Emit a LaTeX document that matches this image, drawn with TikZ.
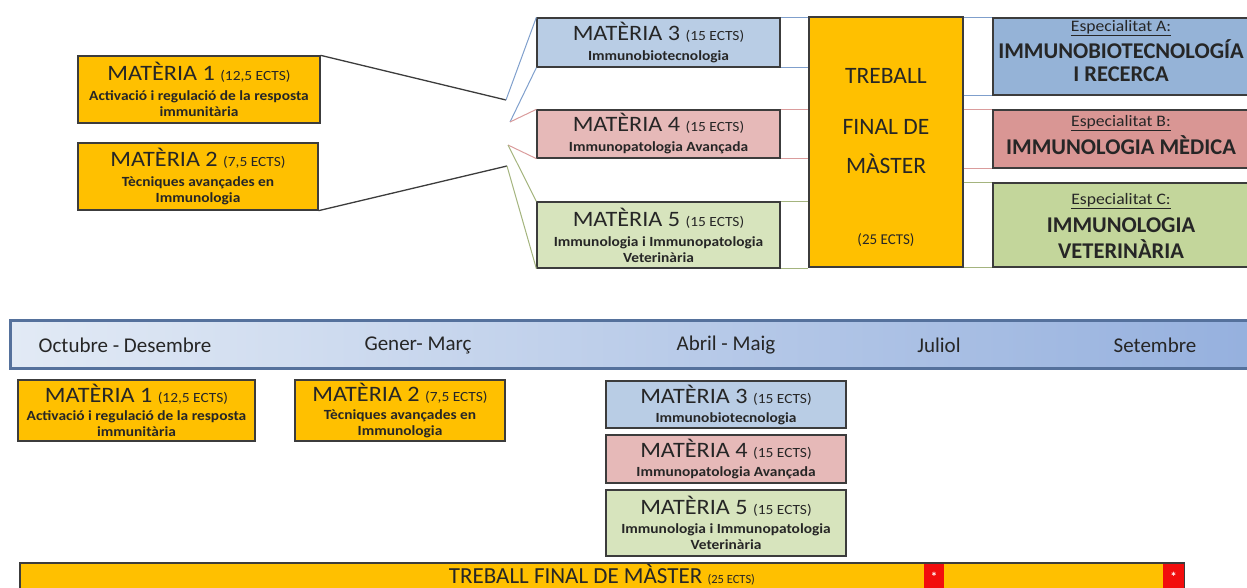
\documentclass[tikz,border=0pt]{standalone}
\usepackage{fontspec}
\setmainfont{Carlito}
\newfontfamily\wfont[FakeStretch=1.1]{Carlito}
\usetikzlibrary{calc}
\definecolor{gold}{HTML}{FFC000}
\definecolor{boxline}{HTML}{3C3C3C}
\definecolor{txt}{HTML}{262626}
\definecolor{bluefill}{HTML}{B9CDE5}
\definecolor{pinkfill}{HTML}{E6B9B8}
\definecolor{greenfill}{HTML}{D7E4BD}
\definecolor{bluespec}{HTML}{95B3D7}
\definecolor{pinkspec}{HTML}{D99694}
\definecolor{greenspec}{HTML}{C3D69B}
\definecolor{blueline}{HTML}{7F9FCC}
\definecolor{pinkline}{HTML}{DA9C9C}
\definecolor{greenline}{HTML}{A4B47E}
\definecolor{tlleft}{HTML}{E2EAF5}
\definecolor{tlright}{HTML}{95B0DE}
\definecolor{tlborder}{HTML}{55719C}
\definecolor{redmark}{HTML}{F20D0D}
\newcommand{\mtitle}[2]{{\wfont\fontsize{22}{24}\selectfont MATÈRIA #1 }{\wfont\fontsize{14}{16}\selectfont(#2 ECTS)}}
\newcommand{\msub}[1]{{\wfont\bfseries\fontsize{14}{16}\selectfont #1}}
\tikzset{
  mbox/.style={draw=boxline, line width=1.3pt, inner sep=0pt, align=center, text=txt,
    font=\fontsize{14}{16}\selectfont},
  gold box/.style={mbox, fill=gold},
  blue box/.style={mbox, fill=bluefill},
  pink box/.style={mbox, fill=pinkfill},
  green box/.style={mbox, fill=greenfill},
  lbl/.style={inner sep=0pt, align=center, text=txt, font=\fontsize{14}{16}\selectfont},
  tfmlbl/.style={inner sep=0pt, text=txt, font=\fontsize{23.5}{26}\selectfont},
  spechd/.style={inner sep=0pt, text=txt, font=\wfont\fontsize{16}{18}\selectfont},
  specnm/.style={inner sep=0pt, text=txt, font=\bfseries\fontsize{22.5}{24}\selectfont},
  tllbl/.style={inner sep=0pt, text=txt, font=\fontsize{21}{24}\selectfont},
  blk/.style={draw=boxline, line width=1.3pt},
  bl/.style={draw=blueline, line width=1pt},
  pk/.style={draw=pinkline, line width=1pt},
  gr/.style={draw=greenline, line width=1pt},
}
\begin{document}
\begin{tikzpicture}[x=1pt,y=-1pt]
\useasboundingbox (0,0) rectangle (1247,588);

% ---------- top scheme ----------
\node[gold box, minimum width=242, minimum height=67] (m1) at (199,89.5)
  {\mtitle{1}{12,5}\\[4pt]\msub{Activació i regulació de la resposta}\\\msub{immunitària}};
\node[gold box, minimum width=240, minimum height=67] (m2) at (198,176.5)
  {\mtitle{2}{7,5}\\[4pt]\msub{Tècniques avançades en}\\\msub{Immunologia}};

\node[blue box, minimum width=243, minimum height=49] (m3) at (658.5,42.5)
  {\mtitle{3}{15}\\[4pt]\msub{Immunobiotecnologia}};
\node[pink box, minimum width=243, minimum height=48] (m4) at (658.5,134)
  {\mtitle{4}{15}\\[4pt]\msub{Immunopatologia Avançada}};
\node[green box, minimum width=243, minimum height=66] (m5) at (658.5,235)
  {\mtitle{5}{15}\\[4pt]\msub{Immunologia i Immunopatologia}\\\msub{Veterinària}};

\node[gold box, minimum width=154, minimum height=250] (tfm) at (886,142) {};
\node[tfmlbl] (tfm1) at (886,76) {TREBALL};
\node[tfmlbl] (tfm2) at (886,127) {FINAL DE};
\node[tfmlbl] (tfm3) at (886,164) {MÀSTER};
\node[tfmlbl, font=\fontsize{15}{17}\selectfont] (tfm4) at (886,240) {(25 ECTS)};

\node[mbox, fill=bluespec, minimum width=262, minimum height=77] (spa) at (1124,56.5) {};
\node[mbox, fill=pinkspec, minimum width=262, minimum height=58] (spb) at (1124,139) {};
\node[mbox, fill=greenspec, minimum width=262, minimum height=84] (spc) at (1124,225) {};
\node[spechd] (spa1) at (1121,28) {\underline{Especialitat A:}};
\node[specnm] (spa2) at (1121,49) {IMMUNOBIOTECNOLOGÍA};
\node[specnm] (spa3) at (1121,74) {I RECERCA};
\node[spechd] (spb1) at (1121,123) {\underline{Especialitat B:}};
\node[specnm] (spb2) at (1121,145) {IMMUNOLOGIA MÈDICA};
\node[spechd] (spc1) at (1121,201) {\underline{Especialitat C:}};
\node[specnm] (spc2) at (1121,225) {IMMUNOLOGIA};
\node[specnm] (spc3) at (1121,249) {VETERINÀRIA};

% fan points
\coordinate (p1) at (506,100);
\coordinate (p2) at (510,122);
\coordinate (p3) at (508,145);
\coordinate (p4) at (507,166);

\draw[blk] (m1.north east) -- (p1);
\draw[blk] (m2.south east) -- (p4);
\draw[bl] (p1) -- (m3.north west);
\draw[bl] (p2) -- (m3.south west);
\draw[pk] (p2) -- (m4.north west);
\draw[pk] (p3) -- (m4.south west);
\draw[gr] (p3) -- (m5.north west);
\draw[gr] (p4) -- (m5.south west);

\draw[bl] (m3.north east) -- (m3.north east -| tfm.west);
\draw[bl] (m3.south east) -- (m3.south east -| tfm.west);
\draw[pk] (m4.north east) -- (m4.north east -| tfm.west);
\draw[pk] (m4.south east) -- (m4.south east -| tfm.west);
\draw[gr] (m5.north east) -- (m5.north east -| tfm.west);
\draw[gr] (m5.south east) -- (m5.south east -| tfm.west);

\draw[bl] (spa.north west -| tfm.east) -- (spa.north west);
\draw[bl] (spa.south west -| tfm.east) -- (spa.south west);
\draw[pk] (spb.north west -| tfm.east) -- (spb.north west);
\draw[pk] (spb.south west -| tfm.east) -- (spb.south west);
\draw[gr] (spc.north west -| tfm.east) -- (spc.north west);
\draw[gr] (spc.south west -| tfm.east) -- (spc.south west);

% ---------- timeline ----------
\node[draw=tlborder, line width=3pt, left color=tlleft, right color=tlright,
      minimum width=1250, minimum height=48, inner sep=0pt] (tl) at (635,344) {};
\node[tllbl] (tla) at (125,345) {Octubre - Desembre};
\node[tllbl] (tlb) at (418,345) {Gener- Març};
\node[tllbl] (tlc) at (726,345) {Abril - Maig};
\node[tllbl] (tld) at (939,345) {Juliol};
\node[tllbl] (tle) at (1155,345) {Setembre};

% ---------- bottom schedule ----------
\node[gold box, minimum width=237, minimum height=61] (bm1) at (136.5,410.5)
  {\mtitle{1}{12,5}\\[2pt]\msub{Activació i regulació de la resposta}\\\msub{immunitària}};
\node[gold box, minimum width=210, minimum height=61] (bm2) at (400,410.5)
  {\mtitle{2}{7,5}\\[2pt]\msub{Tècniques avançades en}\\\msub{Immunologia}};
\node[blue box, minimum width=240, minimum height=47] (bm3) at (726,404.5)
  {\mtitle{3}{15}\\[3pt]\msub{Immunobiotecnologia}};
\node[pink box, minimum width=240, minimum height=48] (bm4) at (726,459)
  {\mtitle{4}{15}\\[3pt]\msub{Immunopatologia Avançada}};
\node[green box, minimum width=240, minimum height=66] (bm5) at (726,523)
  {\mtitle{5}{15}\\[3pt]\msub{Immunologia i Immunopatologia}\\\msub{Veterinària}};

\node[gold box, minimum width=1164, minimum height=40] (bar) at (602,583) {};
\node[lbl, anchor=base] (bartxt) at (602,583.5)
  {{\fontsize{23}{26}\selectfont TREBALL FINAL DE MÀSTER }{\fontsize{12.5}{15}\selectfont(25 ECTS)}};
\node[fill=redmark, minimum width=20, minimum height=38, inner sep=0pt] (r1) at (934,583) {};
\node[fill=redmark, minimum width=21, minimum height=38, inner sep=0pt] (r2) at (1173.5,583) {};
\node[text=white, inner sep=0pt, font=\bfseries\fontsize{13}{15}\selectfont] (r1s) at (934,577) {*};
\node[text=white, inner sep=0pt, font=\bfseries\fontsize{13}{15}\selectfont] (r2s) at (1173.5,577) {*};
\end{tikzpicture}
\end{document}
